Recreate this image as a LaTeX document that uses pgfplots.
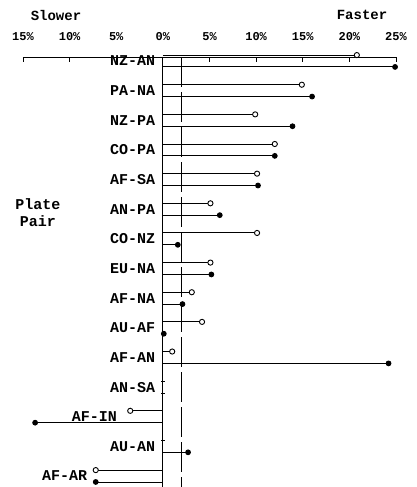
\documentclass[border=0pt]{standalone}
\usepackage{pgfplots}
\pgfplotsset{compat=1.18}
\usepackage{fontspec}
\setmainfont{Liberation Mono}
\begin{document}
\begin{tikzpicture}[lab/.style={anchor=east, inner sep=0pt, font=\fontsize{15}{15}\selectfont\bfseries}]
\path[use as bounding box] (0,0) rectangle (417pt,-487pt);
\begin{axis}[
 at={(23pt,-57pt)}, anchor=north west,
 scale only axis, width=373pt, height=430pt,
 xmin=-15, xmax=25, ymin=-0.135, ymax=14.37, y dir=reverse,
 axis x line=top, axis y line=none,
 x axis line style={-, line width=1pt},
 xtick={-15,-10,...,25},
 xticklabels={15\%,10\%,5\%,0\%,5\%,10\%,15\%,20\%,25\%},
 xticklabel style={font=\fontsize{12}{12}\selectfont\bfseries, yshift=13pt},
 tick align=inside, major tick length=5pt, tick style={line width=0.8pt, black},
 ytick=\empty,
 clip=false,
]
\addplot[black, line width=1.1pt] coordinates {(0,-0.135) (0,14.37)};
\addplot[black, line width=0.8pt, dash pattern=on 30pt off 5pt] coordinates {(2,-0.135) (2,14.37)};
\addplot[xcomb, black, line width=0.9pt, mark=*, mark size=2.6pt, mark options={solid, fill=white}] coordinates {
(20.8,-0.2) (14.9,0.8) (9.9,1.8) (12.0,2.8) (10.1,3.8) (5.1,4.8) (10.1,5.8) (5.1,6.8) (3.1,7.8) (4.2,8.8) (1.0,9.8) (-3.5,11.8) (-7.2,13.8)};
\addplot[xcomb, black, line width=0.9pt, mark=*, mark size=2.4pt, mark options={solid, fill=black}] coordinates {
(24.9,0.2) (16.0,1.2) (13.9,2.2) (12.0,3.2) (10.2,4.2) (6.1,5.2) (1.6,6.2) (5.2,7.2) (2.1,8.2) (0.1,9.2) (24.2,10.2) (-13.7,12.2) (2.7,13.2) (-7.2,14.2)};
\addplot[only marks, black, mark=-, mark size=2pt, mark options={line width=0.8pt}] coordinates {(0,10.8) (0,11.2) (0,12.8)};
\node[lab] at (axis cs:-0.8,0) {NZ-AN};
\node[lab] at (axis cs:-0.8,1) {PA-NA};
\node[lab] at (axis cs:-0.8,2) {NZ-PA};
\node[lab] at (axis cs:-0.8,3) {CO-PA};
\node[lab] at (axis cs:-0.8,4) {AF-SA};
\node[lab] at (axis cs:-0.8,5) {AN-PA};
\node[lab] at (axis cs:-0.8,6) {CO-NZ};
\node[lab] at (axis cs:-0.8,7) {EU-NA};
\node[lab] at (axis cs:-0.8,8) {AF-NA};
\node[lab] at (axis cs:-0.8,9) {AU-AF};
\node[lab] at (axis cs:-0.8,10) {AF-AN};
\node[lab] at (axis cs:-0.8,11) {AN-SA};
\node[lab] at (axis cs:-4.9,12) {AF-IN};
\node[lab] at (axis cs:-0.8,13) {AU-AN};
\node[lab] at (axis cs:-8.1,14) {AF-AR};
\end{axis}
\node[font=\fontsize{14}{14}\selectfont\bfseries] at (56pt,-15pt) {Slower};
\node[font=\fontsize{14}{14}\selectfont\bfseries] at (362pt,-15pt) {Faster};
\node[font=\fontsize{15}{17}\selectfont\bfseries, align=center] at (38pt,-213pt) {Plate\\Pair};
\end{tikzpicture}
\end{document}
